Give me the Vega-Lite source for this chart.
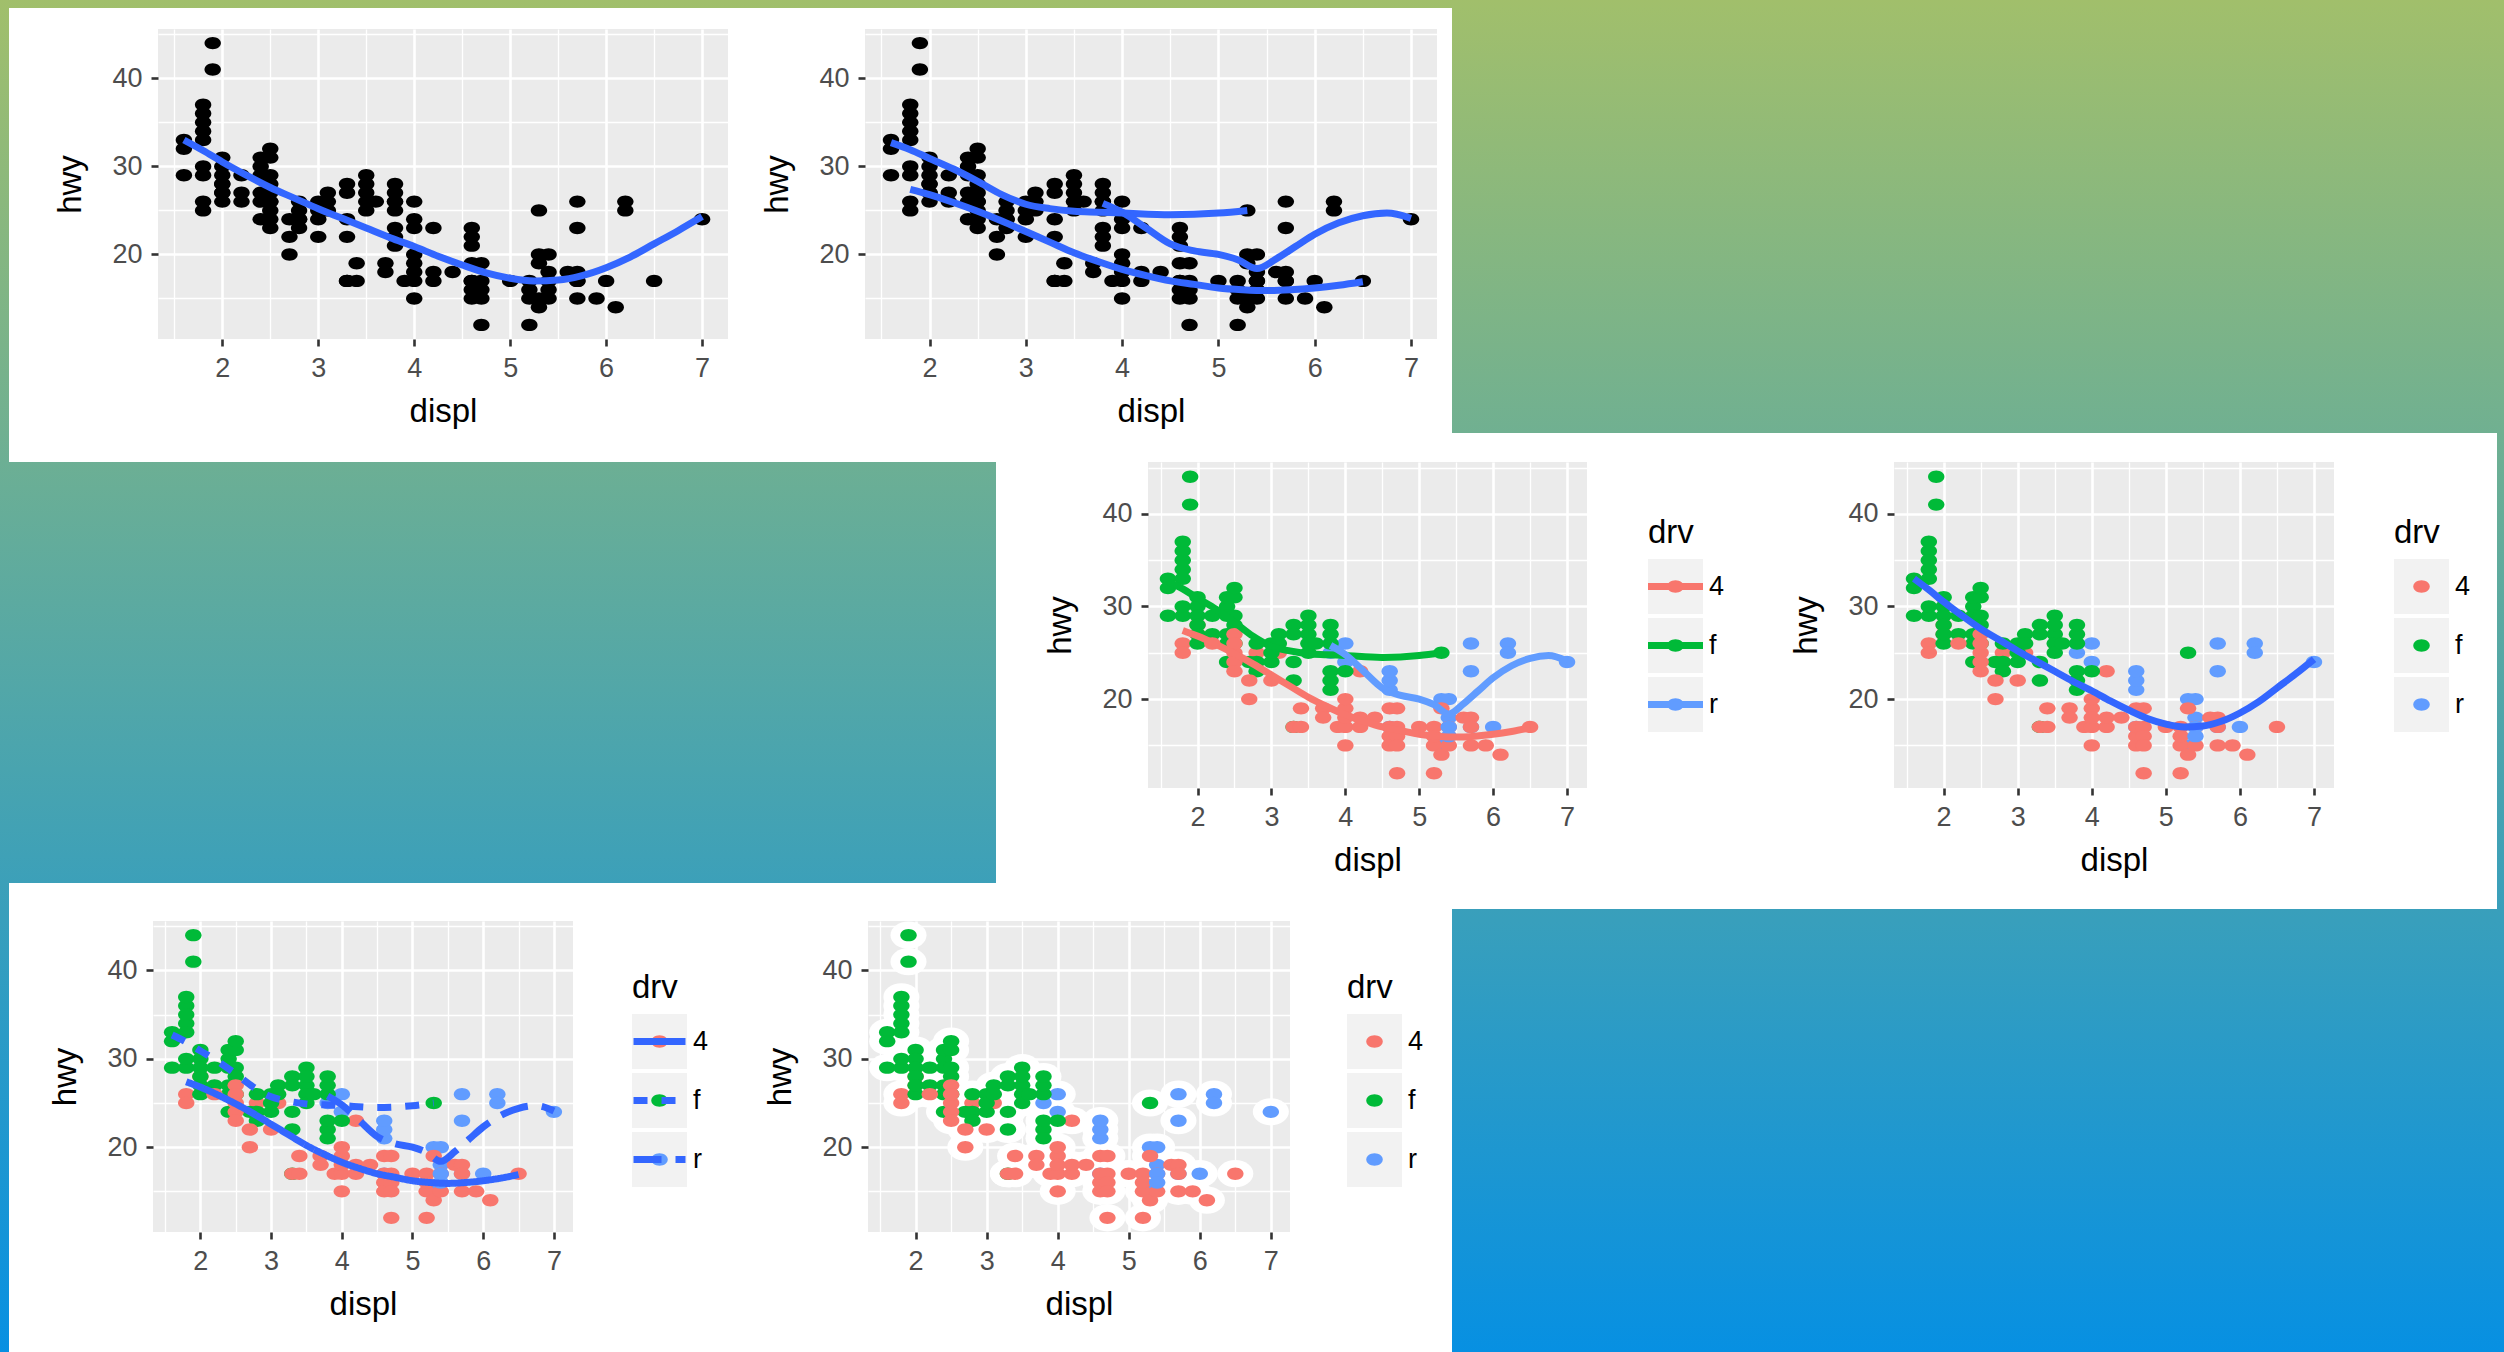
{
"$schema":"https://vega.github.io/schema/vega-lite/v6.json",
"padding":0,
"background":"white",
"spacing":0,
"config":{"view":{"stroke":null},"font":"Liberation Sans"},
"resolve":{"scale":{"color":"independent","strokeDash":"independent","opacity":"independent"},"legend":{"color":"independent","strokeDash":"independent","opacity":"independent"}},
"datasets":{
"mpg":[
{"displ":1.8,"hwy":26,"drv":"4"},{"displ":1.8,"hwy":25,"drv":"4"},{"displ":2.0,"hwy":28,"drv":"4"},{"displ":2.0,"hwy":27,"drv":"4"},{"displ":2.8,"hwy":25,"drv":"4"},{"displ":3.1,"hwy":25,"drv":"4"},{"displ":2.8,"hwy":24,"drv":"4"},{"displ":4.2,"hwy":23,"drv":"4"},
{"displ":5.3,"hwy":20,"drv":"r"},{"displ":5.3,"hwy":15,"drv":"r"},{"displ":5.7,"hwy":17,"drv":"r"},{"displ":6.0,"hwy":17,"drv":"r"},{"displ":5.7,"hwy":26,"drv":"r"},{"displ":5.7,"hwy":23,"drv":"r"},{"displ":6.2,"hwy":26,"drv":"r"},{"displ":6.2,"hwy":25,"drv":"r"},{"displ":7.0,"hwy":24,"drv":"r"},{"displ":4.6,"hwy":17,"drv":"r"},{"displ":5.4,"hwy":18,"drv":"r"},{"displ":3.8,"hwy":26,"drv":"r"},{"displ":3.8,"hwy":25,"drv":"r"},{"displ":4.0,"hwy":26,"drv":"r"},{"displ":4.0,"hwy":24,"drv":"r"},{"displ":4.6,"hwy":21,"drv":"r"},{"displ":4.6,"hwy":22,"drv":"r"},{"displ":4.6,"hwy":23,"drv":"r"},{"displ":5.4,"hwy":20,"drv":"r"},
{"displ":1.6,"hwy":33,"drv":"f"},{"displ":1.6,"hwy":32,"drv":"f"},{"displ":1.6,"hwy":29,"drv":"f"},
{"displ":1.8,"hwy":29,"drv":"f"},{"displ":1.8,"hwy":34,"drv":"f"},{"displ":1.8,"hwy":36,"drv":"f"},{"displ":1.8,"hwy":30,"drv":"f"},{"displ":1.8,"hwy":33,"drv":"f"},{"displ":1.8,"hwy":35,"drv":"f"},{"displ":1.8,"hwy":37,"drv":"f"},
{"displ":1.9,"hwy":44,"drv":"f"},{"displ":1.9,"hwy":41,"drv":"f"},
{"displ":2.0,"hwy":31,"drv":"f"},{"displ":2.0,"hwy":30,"drv":"f"},{"displ":2.0,"hwy":29,"drv":"f"},{"displ":2.0,"hwy":26,"drv":"f"},{"displ":2.0,"hwy":28,"drv":"f"},{"displ":2.0,"hwy":27,"drv":"f"},
{"displ":2.2,"hwy":29,"drv":"f"},{"displ":2.2,"hwy":27,"drv":"f"},
{"displ":2.4,"hwy":27,"drv":"f"},{"displ":2.4,"hwy":30,"drv":"f"},{"displ":2.4,"hwy":24,"drv":"f"},{"displ":2.4,"hwy":26,"drv":"f"},{"displ":2.4,"hwy":31,"drv":"f"},{"displ":2.4,"hwy":29,"drv":"f"},
{"displ":2.5,"hwy":26,"drv":"f"},{"displ":2.5,"hwy":31,"drv":"f"},{"displ":2.5,"hwy":32,"drv":"f"},{"displ":2.5,"hwy":29,"drv":"f"},{"displ":2.5,"hwy":28,"drv":"f"},
{"displ":2.7,"hwy":24,"drv":"f"},
{"displ":2.8,"hwy":26,"drv":"f"},{"displ":2.8,"hwy":24,"drv":"f"},{"displ":2.8,"hwy":23,"drv":"f"},
{"displ":3.0,"hwy":24,"drv":"f"},{"displ":3.0,"hwy":26,"drv":"f"},{"displ":3.0,"hwy":25,"drv":"f"},
{"displ":3.1,"hwy":27,"drv":"f"},{"displ":3.1,"hwy":26,"drv":"f"},
{"displ":3.3,"hwy":22,"drv":"f"},{"displ":3.3,"hwy":24,"drv":"f"},{"displ":3.3,"hwy":17,"drv":"f"},{"displ":3.3,"hwy":28,"drv":"f"},{"displ":3.3,"hwy":27,"drv":"f"},
{"displ":3.5,"hwy":29,"drv":"f"},{"displ":3.5,"hwy":27,"drv":"f"},{"displ":3.5,"hwy":26,"drv":"f"},{"displ":3.5,"hwy":25,"drv":"f"},{"displ":3.5,"hwy":28,"drv":"f"},
{"displ":3.6,"hwy":26,"drv":"f"},
{"displ":3.8,"hwy":22,"drv":"f"},{"displ":3.8,"hwy":21,"drv":"f"},{"displ":3.8,"hwy":23,"drv":"f"},{"displ":3.8,"hwy":26,"drv":"f"},{"displ":3.8,"hwy":27,"drv":"f"},{"displ":3.8,"hwy":28,"drv":"f"},
{"displ":4.0,"hwy":23,"drv":"f"},{"displ":5.3,"hwy":25,"drv":"f"},
{"displ":2.2,"hwy":26,"drv":"4"},
{"displ":2.5,"hwy":25,"drv":"4"},{"displ":2.5,"hwy":24,"drv":"4"},{"displ":2.5,"hwy":27,"drv":"4"},{"displ":2.5,"hwy":26,"drv":"4"},{"displ":2.5,"hwy":23,"drv":"4"},
{"displ":2.7,"hwy":20,"drv":"4"},{"displ":2.7,"hwy":22,"drv":"4"},
{"displ":3.0,"hwy":22,"drv":"4"},{"displ":3.3,"hwy":17,"drv":"4"},
{"displ":3.4,"hwy":19,"drv":"4"},{"displ":3.4,"hwy":17,"drv":"4"},
{"displ":3.7,"hwy":19,"drv":"4"},{"displ":3.7,"hwy":18,"drv":"4"},
{"displ":3.9,"hwy":17,"drv":"4"},
{"displ":4.0,"hwy":17,"drv":"4"},{"displ":4.0,"hwy":19,"drv":"4"},{"displ":4.0,"hwy":20,"drv":"4"},{"displ":4.0,"hwy":15,"drv":"4"},{"displ":4.0,"hwy":18,"drv":"4"},
{"displ":4.2,"hwy":17,"drv":"4"},{"displ":4.2,"hwy":18,"drv":"4"},
{"displ":4.4,"hwy":18,"drv":"4"},
{"displ":4.6,"hwy":19,"drv":"4"},{"displ":4.6,"hwy":16,"drv":"4"},{"displ":4.6,"hwy":17,"drv":"4"},{"displ":4.6,"hwy":15,"drv":"4"},
{"displ":4.7,"hwy":19,"drv":"4"},{"displ":4.7,"hwy":12,"drv":"4"},{"displ":4.7,"hwy":17,"drv":"4"},{"displ":4.7,"hwy":16,"drv":"4"},{"displ":4.7,"hwy":15,"drv":"4"},
{"displ":5.0,"hwy":17,"drv":"4"},
{"displ":5.2,"hwy":17,"drv":"4"},{"displ":5.2,"hwy":15,"drv":"4"},{"displ":5.2,"hwy":16,"drv":"4"},{"displ":5.2,"hwy":12,"drv":"4"},
{"displ":5.3,"hwy":19,"drv":"4"},{"displ":5.3,"hwy":14,"drv":"4"},
{"displ":5.4,"hwy":15,"drv":"4"},{"displ":5.4,"hwy":17,"drv":"4"},
{"displ":5.6,"hwy":18,"drv":"4"},
{"displ":5.7,"hwy":15,"drv":"4"},{"displ":5.7,"hwy":18,"drv":"4"},{"displ":5.7,"hwy":17,"drv":"4"},
{"displ":5.9,"hwy":15,"drv":"4"},{"displ":6.1,"hwy":14,"drv":"4"},{"displ":6.5,"hwy":17,"drv":"4"},
{"displ":5.4,"hwy":17,"drv":"r"},{"displ":5.4,"hwy":16,"drv":"r"}
],
"smooth_all":[
{"displ":1.6,"hwy":33.0},{"displ":1.8,"hwy":31.8},{"displ":2.0,"hwy":30.5},{"displ":2.25,"hwy":29.0},{"displ":2.5,"hwy":27.6},{"displ":2.75,"hwy":26.4},{"displ":3.0,"hwy":25.2},{"displ":3.25,"hwy":24.1},{"displ":3.5,"hwy":23.0},{"displ":3.75,"hwy":21.9},{"displ":4.0,"hwy":20.9},{"displ":4.25,"hwy":19.8},{"displ":4.5,"hwy":18.8},{"displ":4.75,"hwy":17.9},{"displ":5.0,"hwy":17.3},{"displ":5.25,"hwy":17.0},{"displ":5.5,"hwy":17.1},{"displ":5.75,"hwy":17.6},{"displ":6.0,"hwy":18.5},{"displ":6.25,"hwy":19.7},{"displ":6.5,"hwy":21.2},{"displ":6.75,"hwy":22.7},{"displ":7.0,"hwy":24.3}
],
"smooth_grp":[
{"drv":"4","displ":1.8,"hwy":27.4},{"drv":"4","displ":2.0,"hwy":26.8},{"drv":"4","displ":2.25,"hwy":25.9},{"drv":"4","displ":2.5,"hwy":24.9},{"drv":"4","displ":2.75,"hwy":23.8},{"drv":"4","displ":3.0,"hwy":22.6},{"drv":"4","displ":3.25,"hwy":21.4},{"drv":"4","displ":3.5,"hwy":20.2},{"drv":"4","displ":3.75,"hwy":19.2},{"drv":"4","displ":4.0,"hwy":18.3},{"drv":"4","displ":4.25,"hwy":17.6},{"drv":"4","displ":4.5,"hwy":17.0},{"drv":"4","displ":4.75,"hwy":16.6},{"drv":"4","displ":5.0,"hwy":16.2},{"drv":"4","displ":5.25,"hwy":16.0},{"drv":"4","displ":5.5,"hwy":15.9},{"drv":"4","displ":5.75,"hwy":16.0},{"drv":"4","displ":6.0,"hwy":16.2},{"drv":"4","displ":6.25,"hwy":16.5},{"drv":"4","displ":6.5,"hwy":16.9},
{"drv":"f","displ":1.6,"hwy":32.7},{"drv":"f","displ":1.8,"hwy":31.9},{"drv":"f","displ":2.0,"hwy":30.9},{"drv":"f","displ":2.25,"hwy":29.7},{"drv":"f","displ":2.5,"hwy":28.3},{"drv":"f","displ":2.75,"hwy":26.8},{"drv":"f","displ":3.0,"hwy":25.7},{"drv":"f","displ":3.25,"hwy":25.2},{"drv":"f","displ":3.5,"hwy":24.9},{"drv":"f","displ":3.75,"hwy":24.8},{"drv":"f","displ":4.0,"hwy":24.7},{"drv":"f","displ":4.5,"hwy":24.5},{"drv":"f","displ":5.0,"hwy":24.7},{"drv":"f","displ":5.3,"hwy":25.0},
{"drv":"r","displ":3.8,"hwy":25.8},{"drv":"r","displ":4.0,"hwy":24.8},{"drv":"r","displ":4.25,"hwy":23.0},{"drv":"r","displ":4.5,"hwy":21.2},{"drv":"r","displ":4.75,"hwy":20.4},{"drv":"r","displ":5.0,"hwy":20.0},{"drv":"r","displ":5.2,"hwy":19.4},{"drv":"r","displ":5.4,"hwy":18.4},{"drv":"r","displ":5.6,"hwy":19.5},{"drv":"r","displ":5.8,"hwy":20.9},{"drv":"r","displ":6.0,"hwy":22.3},{"drv":"r","displ":6.25,"hwy":23.6},{"drv":"r","displ":6.5,"hwy":24.4},{"drv":"r","displ":6.75,"hwy":24.7},{"drv":"r","displ":7.0,"hwy":24.1}
]
},
"vconcat":[
{"width":2504,"height":8,"data":{"values":[{}]},"mark":{"type":"rect","strokeWidth":0,"fill":{"gradient":"linear","x1":0,"y1":0,"x2":0,"y2":1,"stops":[{"offset":0,"color":"#A1BF6B"},{"offset":1,"color":"#A0BF6C"}]}}},
{"spacing":0,"bounds":"flush","hconcat":[
{"width":9,"height":21,"data":{"values":[{}]},"mark":{"type":"rect","strokeWidth":0,"fill":{"gradient":"linear","x1":0,"y1":0,"x2":0,"y2":1,"stops":[{"offset":0,"color":"#A0BF6C"},{"offset":1,"color":"#9EBE6E"}]}}},
{"width":1443,"height":21,"data":{"values":[]},"mark":"rect"},
{"width":1052,"height":21,"data":{"values":[{}]},"mark":{"type":"rect","strokeWidth":0,"fill":{"gradient":"linear","x1":0,"y1":0,"x2":0,"y2":1,"stops":[{"offset":0,"color":"#A0BF6C"},{"offset":1,"color":"#9EBE6E"}]}}}
]},
{"spacing":0,"bounds":"flush","resolve":{"scale":{"color":"independent","strokeDash":"independent","opacity":"independent"},"legend":{"color":"independent","strokeDash":"independent","opacity":"independent"}},"hconcat":[
{"width":9,"height":404,"data":{"values":[{}]},"mark":{"type":"rect","strokeWidth":0,"fill":{"gradient":"linear","x1":0,"y1":0,"x2":0,"y2":1,"stops":[{"offset":0,"color":"#9EBE6E"},{"offset":1,"color":"#70B091"}]}}},
{"width":149,"height":404,"data":{"values":[]},"mark":"rect"},
{"width":570,"height":310,"view":{"fill":"#EBEBEB","stroke":null},
 "resolve":{"scale":{"x":"independent"},"axis":{"x":"independent"}},
 "encoding":{
  "y":{"field":"hwy","type":"quantitative","scale":{"domain":[10.4,45.6],"nice":false,"zero":false},"axis":{"values":[15,20,25,30,35,40,45],"format":"d","labelExpr":"datum.value % 10 === 0 ? datum.label : ''","title":"hwy","zindex":0,"grid":true,"gridColor":"#FFFFFF","gridOpacity":1,"gridWidth":{"condition":{"test":"datum.value % 10 !== 0","value":1.3},"value":2.6},"domain":false,"ticks":true,"tickColor":"#333333","tickWidth":2.6,"tickSize":7,"tickOpacity":{"condition":{"test":"datum.value % 10 !== 0","value":0},"value":1},"labelFont":"Liberation Sans","labelFontSize":{"condition":{"test":"datum.value % 10 !== 0","value":0},"value":27},"labelColor":"#4D4D4D","labelPadding":9,"labelOverlap":false,"titleFont":"Liberation Sans","titleFontSize":33,"titleFontWeight":"normal","titleColor":"#000000","titlePadding":24}}
 },
 "layer":[
  {"data":{"name":"mpg"},"mark":{"type":"point","shape":"M-1,0A1,0.755 0 1,0 1,0A1,0.755 0 1,0 -1,0Z","size":270,"filled":true,"color":"#000000","opacity":1,"strokeWidth":0},
   "encoding":{"x":{"field":"displ","type":"quantitative","scale":{"domain":[1.33,7.27],"nice":false,"zero":false},"axis":{"values":[1.5,2.5,3.5,4.5,5.5,6.5],"orient":"top","title":null,"zindex":0,"grid":true,"gridColor":"#FFFFFF","gridOpacity":1,"gridWidth":1.3,"domain":false,"ticks":false,"labels":false}}}},
  {"data":{"name":"smooth_all"},"mark":{"type":"line","color":"#3366FF","strokeWidth":7,"interpolate":"monotone"},
   "encoding":{"x":{"field":"displ","type":"quantitative","scale":{"domain":[1.33,7.27],"nice":false,"zero":false},"axis":{"values":[2,3,4,5,6,7],"format":"d","orient":"bottom","title":"displ","zindex":0,"grid":true,"gridColor":"#FFFFFF","gridOpacity":1,"gridWidth":2.6,"domain":false,"ticks":true,"tickColor":"#333333","tickWidth":2.6,"tickSize":7,"labelFont":"Liberation Sans","labelFontSize":27,"labelColor":"#4D4D4D","labelPadding":9,"labelOverlap":false,"labelFlush":false,"titleFont":"Liberation Sans","titleFontSize":33,"titleFontWeight":"normal","titleColor":"#000000","titlePadding":14}}}}
 ]},
{"width":137,"height":404,"data":{"values":[]},"mark":"rect"},
{"width":572,"height":310,"view":{"fill":"#EBEBEB","stroke":null},
 "resolve":{"scale":{"x":"independent"},"axis":{"x":"independent"}},
 "encoding":{
  "y":{"field":"hwy","type":"quantitative","scale":{"domain":[10.4,45.6],"nice":false,"zero":false},"axis":{"values":[15,20,25,30,35,40,45],"format":"d","labelExpr":"datum.value % 10 === 0 ? datum.label : ''","title":"hwy","zindex":0,"grid":true,"gridColor":"#FFFFFF","gridOpacity":1,"gridWidth":{"condition":{"test":"datum.value % 10 !== 0","value":1.3},"value":2.6},"domain":false,"ticks":true,"tickColor":"#333333","tickWidth":2.6,"tickSize":7,"tickOpacity":{"condition":{"test":"datum.value % 10 !== 0","value":0},"value":1},"labelFont":"Liberation Sans","labelFontSize":{"condition":{"test":"datum.value % 10 !== 0","value":0},"value":27},"labelColor":"#4D4D4D","labelPadding":9,"labelOverlap":false,"titleFont":"Liberation Sans","titleFontSize":33,"titleFontWeight":"normal","titleColor":"#000000","titlePadding":24}}
 },
 "layer":[
  {"data":{"name":"mpg"},"mark":{"type":"point","shape":"M-1,0A1,0.755 0 1,0 1,0A1,0.755 0 1,0 -1,0Z","size":270,"filled":true,"color":"#000000","opacity":1,"strokeWidth":0},
   "encoding":{"x":{"field":"displ","type":"quantitative","scale":{"domain":[1.33,7.27],"nice":false,"zero":false},"axis":{"values":[1.5,2.5,3.5,4.5,5.5,6.5],"orient":"top","title":null,"zindex":0,"grid":true,"gridColor":"#FFFFFF","gridOpacity":1,"gridWidth":1.3,"domain":false,"ticks":false,"labels":false}}}},
  {"data":{"name":"smooth_grp"},"mark":{"type":"line","color":"#3366FF","strokeWidth":7,"interpolate":"monotone"},
   "encoding":{"detail":{"field":"drv","type":"nominal"},"x":{"field":"displ","type":"quantitative","scale":{"domain":[1.33,7.27],"nice":false,"zero":false},"axis":{"values":[2,3,4,5,6,7],"format":"d","orient":"bottom","title":"displ","zindex":0,"grid":true,"gridColor":"#FFFFFF","gridOpacity":1,"gridWidth":2.6,"domain":false,"ticks":true,"tickColor":"#333333","tickWidth":2.6,"tickSize":7,"labelFont":"Liberation Sans","labelFontSize":27,"labelColor":"#4D4D4D","labelPadding":9,"labelOverlap":false,"labelFlush":false,"titleFont":"Liberation Sans","titleFontSize":33,"titleFontWeight":"normal","titleColor":"#000000","titlePadding":14}}}}
 ]},
{"width":15,"height":404,"data":{"values":[]},"mark":"rect"},
{"width":1052,"height":404,"data":{"values":[{}]},"mark":{"type":"rect","strokeWidth":0,"fill":{"gradient":"linear","x1":0,"y1":0,"x2":0,"y2":1,"stops":[{"offset":0,"color":"#9EBE6E"},{"offset":1,"color":"#70B091"}]}}}
]},
{"spacing":0,"bounds":"flush","hconcat":[
{"width":9,"height":29,"data":{"values":[{}]},"mark":{"type":"rect","strokeWidth":0,"fill":{"gradient":"linear","x1":0,"y1":0,"x2":0,"y2":1,"stops":[{"offset":0,"color":"#70B091"},{"offset":1,"color":"#6CAF94"}]}}},
{"width":2488,"height":29,"data":{"values":[]},"mark":"rect"},
{"width":7,"height":29,"data":{"values":[{}]},"mark":{"type":"rect","strokeWidth":0,"fill":{"gradient":"linear","x1":0,"y1":0,"x2":0,"y2":1,"stops":[{"offset":0,"color":"#70B091"},{"offset":1,"color":"#6CAF94"}]}}}
]},
{"spacing":0,"bounds":"flush","resolve":{"scale":{"color":"independent","strokeDash":"independent","opacity":"independent"},"legend":{"color":"independent","strokeDash":"independent","opacity":"independent"}},"hconcat":[
{"width":996,"height":421,"data":{"values":[{}]},"mark":{"type":"rect","strokeWidth":0,"fill":{"gradient":"linear","x1":0,"y1":0,"x2":0,"y2":1,"stops":[{"offset":0,"color":"#6CAF94"},{"offset":1,"color":"#3CA0B9"}]}}},
{"width":152,"height":421,"data":{"values":[]},"mark":"rect"},
{"width":439,"height":326,"view":{"fill":"#EBEBEB","stroke":null},
 "resolve":{"scale":{"x":"independent"},"axis":{"x":"independent"}},
 "encoding":{
  "y":{"field":"hwy","type":"quantitative","scale":{"domain":[10.4,45.6],"nice":false,"zero":false},"axis":{"values":[15,20,25,30,35,40,45],"format":"d","labelExpr":"datum.value % 10 === 0 ? datum.label : ''","title":"hwy","zindex":0,"grid":true,"gridColor":"#FFFFFF","gridOpacity":1,"gridWidth":{"condition":{"test":"datum.value % 10 !== 0","value":1.3},"value":2.6},"domain":false,"ticks":true,"tickColor":"#333333","tickWidth":2.6,"tickSize":7,"tickOpacity":{"condition":{"test":"datum.value % 10 !== 0","value":0},"value":1},"labelFont":"Liberation Sans","labelFontSize":{"condition":{"test":"datum.value % 10 !== 0","value":0},"value":27},"labelColor":"#4D4D4D","labelPadding":9,"labelOverlap":false,"titleFont":"Liberation Sans","titleFontSize":33,"titleFontWeight":"normal","titleColor":"#000000","titlePadding":24}}
 },
 "layer":[
  {"data":{"name":"mpg"},"mark":{"type":"point","shape":"M-1,0A1,0.755 0 1,0 1,0A1,0.755 0 1,0 -1,0Z","size":270,"filled":true,"opacity":1,"strokeWidth":0},
   "encoding":{"x":{"field":"displ","type":"quantitative","scale":{"domain":[1.33,7.27],"nice":false,"zero":false},"axis":{"values":[1.5,2.5,3.5,4.5,5.5,6.5],"orient":"top","title":null,"zindex":0,"grid":true,"gridColor":"#FFFFFF","gridOpacity":1,"gridWidth":1.3,"domain":false,"ticks":false,"labels":false}},
    "color":{"field":"drv","type":"nominal","scale":{"domain":["4","f","r"],"range":["#F8766D","#00BA38","#619CFF"]},
     "legend":{"orient":"none","legendX":500,"legendY":55,"direction":"vertical","zindex":2,"title":"drv","titleFont":"Liberation Sans","titleFontSize":33,"titleFontWeight":"normal","titleColor":"#000000","titlePadding":9,"titleAnchor":"start","labelFont":"Liberation Sans","labelFontSize":27,"labelColor":"#000000","labelOffset":6,"symbolType":"M-1.4545,-1M1.4545,1M-1,-0.127H1V0.127H-1ZM0.3,0A0.3,0.226 0 1,1 -0.3,0A0.3,0.226 0 1,1 0.3,0Z","symbolSize":3025,"symbolStrokeWidth":0,"symbolOpacity":1,"rowPadding":4,"padding":0,
      "encode":{"symbols":{"update":{"shape":{"value":"M-1.4545,-1M1.4545,1M-1,-0.127H1V0.127H-1ZM0.3,0A0.3,0.226 0 1,1 -0.3,0A0.3,0.226 0 1,1 0.3,0Z"},"size":{"value":3025},"strokeWidth":{"value":0},"opacity":{"value":1},"fill":[{"test":"datum.value === '4'","value":"#F8766D"},{"test":"datum.value === 'f'","value":"#00BA38"},{"value":"#619CFF"}]}}}}},
    "opacity":{"field":"drv","type":"ordinal","scale":{"range":[1,1]},
     "legend":{"orient":"none","legendX":500,"legendY":55,"direction":"vertical","zindex":1,"title":" ","titleFont":"Liberation Sans","titleFontSize":33,"titleFontWeight":"normal","titlePadding":9,"titleAnchor":"start","labelFont":"Liberation Sans","labelFontSize":27,"labelExpr":"''","labelOffset":6,"symbolType":"M-1.4545,-1M1.4545,1M-1,-1H1V1H-1Z","symbolSize":3025,"symbolStrokeWidth":0,"symbolFillColor":"#F2F2F2","symbolOpacity":1,"rowPadding":4,"padding":0,
      "encode":{"symbols":{"update":{"fill":{"value":"#F2F2F2"},"shape":{"value":"M-1.4545,-1M1.4545,1M-1,-1H1V1H-1Z"},"size":{"value":3025},"strokeWidth":{"value":0},"opacity":{"value":1}}}}}}}},
  {"data":{"name":"smooth_grp"},"mark":{"type":"line","strokeWidth":7,"interpolate":"monotone"},
   "encoding":{"x":{"field":"displ","type":"quantitative","scale":{"domain":[1.33,7.27],"nice":false,"zero":false},"axis":{"values":[2,3,4,5,6,7],"format":"d","orient":"bottom","title":"displ","zindex":0,"grid":true,"gridColor":"#FFFFFF","gridOpacity":1,"gridWidth":2.6,"domain":false,"ticks":true,"tickColor":"#333333","tickWidth":2.6,"tickSize":7,"labelFont":"Liberation Sans","labelFontSize":27,"labelColor":"#4D4D4D","labelPadding":9,"labelOverlap":false,"labelFlush":false,"titleFont":"Liberation Sans","titleFontSize":33,"titleFontWeight":"normal","titleColor":"#000000","titlePadding":14}},
    "color":{"field":"drv","type":"nominal","scale":{"domain":["4","f","r"],"range":["#F8766D","#00BA38","#619CFF"]}}}}
 ]},
{"width":307,"height":421,"data":{"values":[]},"mark":"rect"},
{"width":440,"height":326,"view":{"fill":"#EBEBEB","stroke":null},
 "resolve":{"scale":{"x":"independent"},"axis":{"x":"independent"}},
 "encoding":{
  "y":{"field":"hwy","type":"quantitative","scale":{"domain":[10.4,45.6],"nice":false,"zero":false},"axis":{"values":[15,20,25,30,35,40,45],"format":"d","labelExpr":"datum.value % 10 === 0 ? datum.label : ''","title":"hwy","zindex":0,"grid":true,"gridColor":"#FFFFFF","gridOpacity":1,"gridWidth":{"condition":{"test":"datum.value % 10 !== 0","value":1.3},"value":2.6},"domain":false,"ticks":true,"tickColor":"#333333","tickWidth":2.6,"tickSize":7,"tickOpacity":{"condition":{"test":"datum.value % 10 !== 0","value":0},"value":1},"labelFont":"Liberation Sans","labelFontSize":{"condition":{"test":"datum.value % 10 !== 0","value":0},"value":27},"labelColor":"#4D4D4D","labelPadding":9,"labelOverlap":false,"titleFont":"Liberation Sans","titleFontSize":33,"titleFontWeight":"normal","titleColor":"#000000","titlePadding":24}}
 },
 "layer":[
  {"data":{"name":"mpg"},"mark":{"type":"point","shape":"M-1,0A1,0.755 0 1,0 1,0A1,0.755 0 1,0 -1,0Z","size":270,"filled":true,"opacity":1,"strokeWidth":0},
   "encoding":{"x":{"field":"displ","type":"quantitative","scale":{"domain":[1.33,7.27],"nice":false,"zero":false},"axis":{"values":[1.5,2.5,3.5,4.5,5.5,6.5],"orient":"top","title":null,"zindex":0,"grid":true,"gridColor":"#FFFFFF","gridOpacity":1,"gridWidth":1.3,"domain":false,"ticks":false,"labels":false}},
    "color":{"field":"drv","type":"nominal","scale":{"domain":["4","f","r"],"range":["#F8766D","#00BA38","#619CFF"]},
     "legend":{"orient":"none","legendX":500,"legendY":55,"direction":"vertical","zindex":2,"title":"drv","titleFont":"Liberation Sans","titleFontSize":33,"titleFontWeight":"normal","titleColor":"#000000","titlePadding":9,"titleAnchor":"start","labelFont":"Liberation Sans","labelFontSize":27,"labelColor":"#000000","labelOffset":6,"symbolType":"M-1.4545,-1M1.4545,1M0.3,0A0.3,0.226 0 1,1 -0.3,0A0.3,0.226 0 1,1 0.3,0Z","symbolSize":3025,"symbolStrokeWidth":0,"symbolOpacity":1,"rowPadding":4,"padding":0,
      "encode":{"symbols":{"update":{"shape":{"value":"M-1.4545,-1M1.4545,1M0.3,0A0.3,0.226 0 1,1 -0.3,0A0.3,0.226 0 1,1 0.3,0Z"},"size":{"value":3025},"strokeWidth":{"value":0},"opacity":{"value":1},"fill":[{"test":"datum.value === '4'","value":"#F8766D"},{"test":"datum.value === 'f'","value":"#00BA38"},{"value":"#619CFF"}]}}}}},
    "opacity":{"field":"drv","type":"ordinal","scale":{"range":[1,1]},
     "legend":{"orient":"none","legendX":500,"legendY":55,"direction":"vertical","zindex":1,"title":" ","titleFont":"Liberation Sans","titleFontSize":33,"titleFontWeight":"normal","titlePadding":9,"titleAnchor":"start","labelFont":"Liberation Sans","labelFontSize":27,"labelExpr":"''","labelOffset":6,"symbolType":"M-1.4545,-1M1.4545,1M-1,-1H1V1H-1Z","symbolSize":3025,"symbolStrokeWidth":0,"symbolFillColor":"#F2F2F2","symbolOpacity":1,"rowPadding":4,"padding":0,
      "encode":{"symbols":{"update":{"fill":{"value":"#F2F2F2"},"shape":{"value":"M-1.4545,-1M1.4545,1M-1,-1H1V1H-1Z"},"size":{"value":3025},"strokeWidth":{"value":0},"opacity":{"value":1}}}}}}}},
  {"data":{"name":"smooth_all"},"mark":{"type":"line","color":"#3366FF","strokeWidth":7,"interpolate":"monotone"},
   "encoding":{"x":{"field":"displ","type":"quantitative","scale":{"domain":[1.33,7.27],"nice":false,"zero":false},"axis":{"values":[2,3,4,5,6,7],"format":"d","orient":"bottom","title":"displ","zindex":0,"grid":true,"gridColor":"#FFFFFF","gridOpacity":1,"gridWidth":2.6,"domain":false,"ticks":true,"tickColor":"#333333","tickWidth":2.6,"tickSize":7,"labelFont":"Liberation Sans","labelFontSize":27,"labelColor":"#4D4D4D","labelPadding":9,"labelOverlap":false,"labelFlush":false,"titleFont":"Liberation Sans","titleFontSize":33,"titleFontWeight":"normal","titleColor":"#000000","titlePadding":14}}}}
 ]},
{"width":163,"height":421,"data":{"values":[]},"mark":"rect"},
{"width":7,"height":421,"data":{"values":[{}]},"mark":{"type":"rect","strokeWidth":0,"fill":{"gradient":"linear","x1":0,"y1":0,"x2":0,"y2":1,"stops":[{"offset":0,"color":"#6CAF94"},{"offset":1,"color":"#3CA0B9"}]}}}
]},
{"spacing":0,"bounds":"flush","hconcat":[
{"width":9,"height":26,"data":{"values":[{}]},"mark":{"type":"rect","strokeWidth":0,"fill":{"gradient":"linear","x1":0,"y1":0,"x2":0,"y2":1,"stops":[{"offset":0,"color":"#3CA0B9"},{"offset":1,"color":"#399FBB"}]}}},
{"width":2488,"height":26,"data":{"values":[]},"mark":"rect"},
{"width":7,"height":26,"data":{"values":[{}]},"mark":{"type":"rect","strokeWidth":0,"fill":{"gradient":"linear","x1":0,"y1":0,"x2":0,"y2":1,"stops":[{"offset":0,"color":"#3CA0B9"},{"offset":1,"color":"#399FBB"}]}}}
]},
{"spacing":0,"bounds":"flush","hconcat":[
{"width":9,"height":12,"data":{"values":[{}]},"mark":{"type":"rect","strokeWidth":0,"fill":{"gradient":"linear","x1":0,"y1":0,"x2":0,"y2":1,"stops":[{"offset":0,"color":"#399FBB"},{"offset":1,"color":"#389FBC"}]}}},
{"width":1443,"height":12,"data":{"values":[]},"mark":"rect"},
{"width":1052,"height":12,"data":{"values":[{}]},"mark":{"type":"rect","strokeWidth":0,"fill":{"gradient":"linear","x1":0,"y1":0,"x2":0,"y2":1,"stops":[{"offset":0,"color":"#399FBB"},{"offset":1,"color":"#389FBC"}]}}}
]},
{"spacing":0,"bounds":"flush","resolve":{"scale":{"color":"independent","strokeDash":"independent","opacity":"independent"},"legend":{"color":"independent","strokeDash":"independent","opacity":"independent"}},"hconcat":[
{"width":9,"height":431,"data":{"values":[{}]},"mark":{"type":"rect","strokeWidth":0,"fill":{"gradient":"linear","x1":0,"y1":0,"x2":0,"y2":1,"stops":[{"offset":0,"color":"#389FBC"},{"offset":1,"color":"#0790E2"}]}}},
{"width":144,"height":431,"data":{"values":[]},"mark":"rect"},
{"width":420,"height":311,"view":{"fill":"#EBEBEB","stroke":null},
 "resolve":{"scale":{"x":"independent"},"axis":{"x":"independent"}},
 "encoding":{
  "y":{"field":"hwy","type":"quantitative","scale":{"domain":[10.4,45.6],"nice":false,"zero":false},"axis":{"values":[15,20,25,30,35,40,45],"format":"d","labelExpr":"datum.value % 10 === 0 ? datum.label : ''","title":"hwy","zindex":0,"grid":true,"gridColor":"#FFFFFF","gridOpacity":1,"gridWidth":{"condition":{"test":"datum.value % 10 !== 0","value":1.3},"value":2.6},"domain":false,"ticks":true,"tickColor":"#333333","tickWidth":2.6,"tickSize":7,"tickOpacity":{"condition":{"test":"datum.value % 10 !== 0","value":0},"value":1},"labelFont":"Liberation Sans","labelFontSize":{"condition":{"test":"datum.value % 10 !== 0","value":0},"value":27},"labelColor":"#4D4D4D","labelPadding":9,"labelOverlap":false,"titleFont":"Liberation Sans","titleFontSize":33,"titleFontWeight":"normal","titleColor":"#000000","titlePadding":24}}
 },
 "layer":[
  {"data":{"name":"mpg"},"mark":{"type":"point","shape":"M-1,0A1,0.755 0 1,0 1,0A1,0.755 0 1,0 -1,0Z","size":270,"filled":true,"opacity":1,"strokeWidth":0},
   "encoding":{"x":{"field":"displ","type":"quantitative","scale":{"domain":[1.33,7.27],"nice":false,"zero":false},"axis":{"values":[1.5,2.5,3.5,4.5,5.5,6.5],"orient":"top","title":null,"zindex":0,"grid":true,"gridColor":"#FFFFFF","gridOpacity":1,"gridWidth":1.3,"domain":false,"ticks":false,"labels":false}},
    "color":{"field":"drv","type":"nominal","scale":{"domain":["4","f","r"],"range":["#F8766D","#00BA38","#619CFF"]},
     "legend":{"orient":"none","legendX":479,"legendY":51,"direction":"vertical","zindex":2,"title":"drv","titleFont":"Liberation Sans","titleFontSize":33,"titleFontWeight":"normal","titleColor":"#000000","titlePadding":9,"titleAnchor":"start","labelFont":"Liberation Sans","labelFontSize":27,"labelColor":"#000000","labelOffset":6,"symbolType":"M-1.4545,-1M1.4545,1M0.3,0A0.3,0.226 0 1,1 -0.3,0A0.3,0.226 0 1,1 0.3,0Z","symbolSize":3025,"symbolStrokeWidth":0,"symbolOpacity":1,"rowPadding":4,"padding":0,
      "encode":{"symbols":{"update":{"shape":{"value":"M-1.4545,-1M1.4545,1M0.3,0A0.3,0.226 0 1,1 -0.3,0A0.3,0.226 0 1,1 0.3,0Z"},"size":{"value":3025},"strokeWidth":{"value":0},"opacity":{"value":1},"fill":[{"test":"datum.value === '4'","value":"#F8766D"},{"test":"datum.value === 'f'","value":"#00BA38"},{"value":"#619CFF"}]}}}}},
    "opacity":{"field":"drv","type":"ordinal","scale":{"range":[1,1]},
     "legend":{"orient":"none","legendX":479,"legendY":51,"direction":"vertical","zindex":1,"title":" ","titleFont":"Liberation Sans","titleFontSize":33,"titleFontWeight":"normal","titlePadding":9,"titleAnchor":"start","labelFont":"Liberation Sans","labelFontSize":27,"labelExpr":"''","labelOffset":6,"symbolType":"M-1.4545,-1M1.4545,1M-1,-1H1V1H-1Z","symbolSize":3025,"symbolStrokeWidth":0,"symbolFillColor":"#F2F2F2","symbolOpacity":1,"rowPadding":4,"padding":0,
      "encode":{"symbols":{"update":{"fill":{"value":"#F2F2F2"},"shape":{"value":"M-1.4545,-1M1.4545,1M-1,-1H1V1H-1Z"},"size":{"value":3025},"strokeWidth":{"value":0},"opacity":{"value":1}}}}}}}},
  {"data":{"name":"smooth_grp"},"mark":{"type":"line","color":"#3366FF","strokeWidth":7,"interpolate":"monotone"},
   "encoding":{"x":{"field":"displ","type":"quantitative","scale":{"domain":[1.33,7.27],"nice":false,"zero":false},"axis":{"values":[2,3,4,5,6,7],"format":"d","orient":"bottom","title":"displ","zindex":0,"grid":true,"gridColor":"#FFFFFF","gridOpacity":1,"gridWidth":2.6,"domain":false,"ticks":true,"tickColor":"#333333","tickWidth":2.6,"tickSize":7,"labelFont":"Liberation Sans","labelFontSize":27,"labelColor":"#4D4D4D","labelPadding":9,"labelOverlap":false,"labelFlush":false,"titleFont":"Liberation Sans","titleFontSize":33,"titleFontWeight":"normal","titleColor":"#000000","titlePadding":14}},
    "strokeDash":{"field":"drv","type":"nominal","scale":{"range":[[1,0],[14,14],[28,14]]},
     "legend":{"orient":"none","legendX":479,"legendY":51,"direction":"vertical","zindex":3,"title":" ","titleFont":"Liberation Sans","titleFontSize":33,"titleFontWeight":"normal","titlePadding":9,"titleAnchor":"start","labelFont":"Liberation Sans","labelFontSize":27,"labelExpr":"''","labelOffset":6,"symbolType":"M-1.083,-0.5625M1.083,0.5625M-1.083,0H1.083","symbolSize":2304,"symbolStrokeWidth":7,"symbolStrokeColor":"#3366FF","symbolOpacity":1,"rowPadding":4,"padding":0,
      "encode":{"symbols":{"update":{"shape":{"value":"M-1.083,-0.5625M1.083,0.5625M-1.083,0H1.083"},"size":{"value":2304},"strokeWidth":{"value":7},"stroke":{"value":"#3366FF"},"fill":{"value":"transparent"},"opacity":{"value":1}}}}}}}}
 ]},
{"width":295,"height":431,"data":{"values":[]},"mark":"rect"},
{"width":422,"height":311,"view":{"fill":"#EBEBEB","stroke":null},
 "resolve":{"scale":{"x":"independent"},"axis":{"x":"independent"}},
 "encoding":{
  "y":{"field":"hwy","type":"quantitative","scale":{"domain":[10.4,45.6],"nice":false,"zero":false},"axis":{"values":[15,20,25,30,35,40,45],"format":"d","labelExpr":"datum.value % 10 === 0 ? datum.label : ''","title":"hwy","zindex":0,"grid":true,"gridColor":"#FFFFFF","gridOpacity":1,"gridWidth":{"condition":{"test":"datum.value % 10 !== 0","value":1.3},"value":2.6},"domain":false,"ticks":true,"tickColor":"#333333","tickWidth":2.6,"tickSize":7,"tickOpacity":{"condition":{"test":"datum.value % 10 !== 0","value":0},"value":1},"labelFont":"Liberation Sans","labelFontSize":{"condition":{"test":"datum.value % 10 !== 0","value":0},"value":27},"labelColor":"#4D4D4D","labelPadding":9,"labelOverlap":false,"titleFont":"Liberation Sans","titleFontSize":33,"titleFontWeight":"normal","titleColor":"#000000","titlePadding":24}}
 },
 "layer":[
  {"data":{"name":"mpg"},"mark":{"type":"point","shape":"M-1,0A1,0.755 0 1,0 1,0A1,0.755 0 1,0 -1,0Z","size":1300,"filled":true,"color":"#FFFFFF","opacity":1,"strokeWidth":0},
   "encoding":{"x":{"field":"displ","type":"quantitative","scale":{"domain":[1.33,7.27],"nice":false,"zero":false},"axis":{"values":[1.5,2.5,3.5,4.5,5.5,6.5],"orient":"top","title":null,"zindex":0,"grid":true,"gridColor":"#FFFFFF","gridOpacity":1,"gridWidth":1.3,"domain":false,"ticks":false,"labels":false}}}},
  {"data":{"name":"mpg"},"mark":{"type":"point","shape":"M-1,0A1,0.755 0 1,0 1,0A1,0.755 0 1,0 -1,0Z","size":270,"filled":true,"opacity":1,"strokeWidth":0},
   "encoding":{"x":{"field":"displ","type":"quantitative","scale":{"domain":[1.33,7.27],"nice":false,"zero":false},"axis":{"values":[2,3,4,5,6,7],"format":"d","orient":"bottom","title":"displ","zindex":0,"grid":true,"gridColor":"#FFFFFF","gridOpacity":1,"gridWidth":2.6,"domain":false,"ticks":true,"tickColor":"#333333","tickWidth":2.6,"tickSize":7,"labelFont":"Liberation Sans","labelFontSize":27,"labelColor":"#4D4D4D","labelPadding":9,"labelOverlap":false,"labelFlush":false,"titleFont":"Liberation Sans","titleFontSize":33,"titleFontWeight":"normal","titleColor":"#000000","titlePadding":14}},
    "color":{"field":"drv","type":"nominal","scale":{"domain":["4","f","r"],"range":["#F8766D","#00BA38","#619CFF"]},
     "legend":{"orient":"none","legendX":479,"legendY":51,"direction":"vertical","zindex":2,"title":"drv","titleFont":"Liberation Sans","titleFontSize":33,"titleFontWeight":"normal","titleColor":"#000000","titlePadding":9,"titleAnchor":"start","labelFont":"Liberation Sans","labelFontSize":27,"labelColor":"#000000","labelOffset":6,"symbolType":"M-1.4545,-1M1.4545,1M0.3,0A0.3,0.226 0 1,1 -0.3,0A0.3,0.226 0 1,1 0.3,0Z","symbolSize":3025,"symbolStrokeWidth":0,"symbolOpacity":1,"rowPadding":4,"padding":0,
      "encode":{"symbols":{"update":{"shape":{"value":"M-1.4545,-1M1.4545,1M0.3,0A0.3,0.226 0 1,1 -0.3,0A0.3,0.226 0 1,1 0.3,0Z"},"size":{"value":3025},"strokeWidth":{"value":0},"opacity":{"value":1},"fill":[{"test":"datum.value === '4'","value":"#F8766D"},{"test":"datum.value === 'f'","value":"#00BA38"},{"value":"#619CFF"}]}}}}},
    "opacity":{"field":"drv","type":"ordinal","scale":{"range":[1,1]},
     "legend":{"orient":"none","legendX":479,"legendY":51,"direction":"vertical","zindex":1,"title":" ","titleFont":"Liberation Sans","titleFontSize":33,"titleFontWeight":"normal","titlePadding":9,"titleAnchor":"start","labelFont":"Liberation Sans","labelFontSize":27,"labelExpr":"''","labelOffset":6,"symbolType":"M-1.4545,-1M1.4545,1M-1,-1H1V1H-1Z","symbolSize":3025,"symbolStrokeWidth":0,"symbolFillColor":"#F2F2F2","symbolOpacity":1,"rowPadding":4,"padding":0,
      "encode":{"symbols":{"update":{"fill":{"value":"#F2F2F2"},"shape":{"value":"M-1.4545,-1M1.4545,1M-1,-1H1V1H-1Z"},"size":{"value":3025},"strokeWidth":{"value":0},"opacity":{"value":1}}}}}}}}
 ]},
{"width":162,"height":431,"data":{"values":[]},"mark":"rect"},
{"width":1052,"height":431,"data":{"values":[{}]},"mark":{"type":"rect","strokeWidth":0,"fill":{"gradient":"linear","x1":0,"y1":0,"x2":0,"y2":1,"stops":[{"offset":0,"color":"#389FBC"},{"offset":1,"color":"#0790E2"}]}}}
]}
]
}
